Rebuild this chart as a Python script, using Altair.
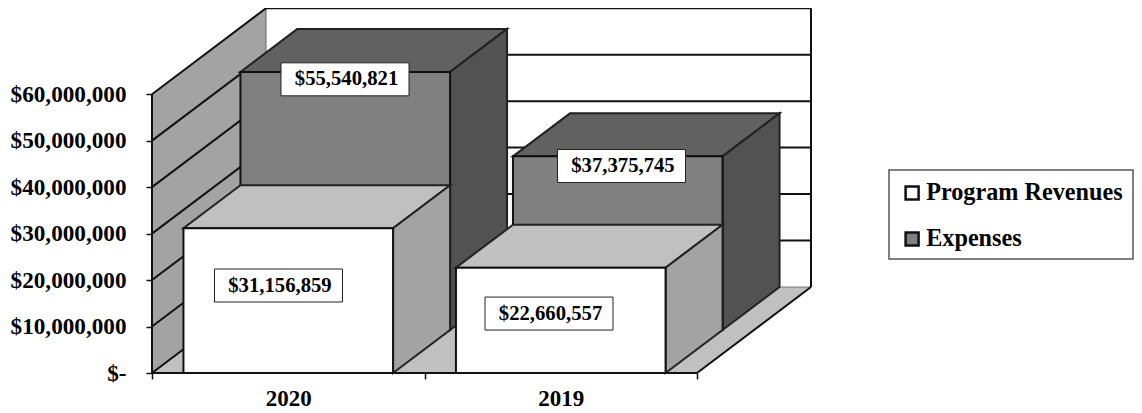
import altair as alt
import pandas as pd

# --- data ---
years = ["2020", "2019"]
series = ["Program Revenues", "Expenses"]
program_revenues = [31156859, 22660557]
expenses = [55540821, 37375745]
y_ticks = [0, 10000000, 20000000, 30000000, 40000000, 50000000, 60000000]
# label-box anchors, in (category units, dollars) of the front plane
label_cat = {"Program Revenues": [0.4642, 1.4569], "Expenses": [0.7083, 1.7229]}
label_val = {"Program Revenues": [18830000, 12790000], "Expenses": [63200000, 44550000]}

# --- oblique projection of (category, depth, value) ---
W, H = 659, 365
UNIT_PX = 272.5
K = (373 - 94.2) / 60000000
SHEAR_X = 114 / UNIT_PX
SHEAR_Y = 86 / K
X_DOMAIN = [0, W / UNIT_PX]
Y_DOMAIN = [0, H / K]
GAP = (1 - 1 / 1.3) / 2
FONT = "Liberation Serif"


def px(c, d):
    return c + d * SHEAR_X


def py(v, d):
    return v + d * SHEAR_Y


xs = alt.Scale(domain=X_DOMAIN, nice=False, zero=False)
ys = alt.Scale(domain=Y_DOMAIN, nice=False, zero=False)
x_axis = alt.Axis(
    values=[0, 0.5, 1, 1.5, 2], domain=False, grid=False, tickSize=6, tickWidth=1.5,
    tickColor="#111111",
    tickOpacity={"condition": {"test": "datum.value % 1 == 0", "value": 1}, "value": 0},
    labelExpr=f"datum.value == 0.5 ? '{years[0]}' : datum.value == 1.5 ? '{years[1]}' : ''",
    labelFont=FONT, labelFontSize=23, labelFontWeight="bold", labelColor="black",
    labelPadding=8, labelOverlap=False, labelFlush=False, labelBound=False)
y_axis = alt.Axis(
    values=y_ticks, domain=False, grid=False, tickSize=6, tickWidth=1.5,
    tickColor="#111111",
    labelExpr="datum.value == 0 ? '$-' : format(datum.value, '$,.0f')",
    labelFont=FONT, labelFontSize=23.2, labelFontWeight="bold", labelColor="black",
    labelPadding=20, labelOverlap=False, labelBound=False)
X = alt.X("x:Q", scale=xs, title=None, axis=x_axis)
Y = alt.Y("y:Q", scale=ys, title=None, axis=y_axis)
X2 = alt.X2("x2:Q")
Y2 = alt.Y2("y2:Q")


def vface(rows, fill, stroke="#222222", sw=2):
    """Parallelogram with vertical sides."""
    return alt.Chart(pd.DataFrame(rows)).mark_area(
        orient="vertical", fill=fill, stroke=stroke, strokeWidth=sw, opacity=1
    ).encode(x=X, y=Y, y2=Y2)


def hface(rows, fill, stroke="#222222", sw=2):
    """Parallelogram with horizontal sides."""
    return alt.Chart(pd.DataFrame(rows)).mark_area(
        orient="horizontal", fill=fill, stroke=stroke, strokeWidth=sw, opacity=1
    ).encode(y=Y, x=X, x2=X2)


def seg(c0, d0, v0, c1, d1, v1, key):
    return [
        {"x": px(c0, d0), "y": py(v0, d0), "k": key, "o": 0},
        {"x": px(c1, d1), "y": py(v1, d1), "k": key, "o": 1},
    ]


wall = pd.DataFrame([{"x": px(0, 1), "x2": px(2, 1), "y": py(0, 1), "y2": py(60000000, 1)}])
back = alt.Chart(wall).mark_rect(fill="white").encode(x=X, x2=X2, y=Y, y2=Y2)

left_wall = vface(
    [{"x": px(0, 0), "y": py(0, 0), "y2": py(60000000, 0)},
     {"x": px(0, 1), "y": py(0, 1), "y2": py(60000000, 1)}],
    "#a3a3a3", "#666666", 1,
)
floor = hface(
    [{"y": py(0, 0), "x": px(0, 0), "x2": px(2, 0)},
     {"y": py(0, 1), "x": px(0, 1), "x2": px(2, 1)}],
    "#c0c0c0", "#777777", 1,
)

grid_rows = []
for v in y_ticks:
    grid_rows += seg(0, 0, v, 0, 1, v, f"d{v}")
    if v > 0:
        grid_rows += seg(0, 1, v, 2, 1, v, f"b{v}")
grid_rows += seg(0, 0, 0, 0, 0, 60000000, "front-left")
grid_rows += seg(2, 1, 0, 2, 1, 60000000, "back-right")
grid_rows += seg(0, 0, 0, 2, 0, 0, "front-floor")
grid_rows += seg(2, 0, 0, 2, 1, 0, "right-floor")
grid = alt.Chart(pd.DataFrame(grid_rows)).mark_line(color="#111111", strokeWidth=2).encode(
    x=X, y=Y, detail="k:N", order="o:Q"
)

color = alt.Color(
    "series:N",
    scale=alt.Scale(domain=series, range=["#ffffff", "#808080"]),
    legend=alt.Legend(
        title=None, orient="none", legendX=748, legendY=173, padding=0,
        labelFont=FONT, labelFontSize=24.2, labelFontWeight="bold", labelColor="black",
        labelOffset=2, rowPadding=21, symbolType="square", symbolSize=169,
        symbolStrokeColor="#111111", symbolStrokeWidth=2.5, symbolOpacity=1,
        labelLimit=400,
    ),
)


def bar(i, name, value, d0, d1, top_fill, side_fill):
    c0, c1 = i + GAP, i + 1 - GAP
    top = hface(
        [{"y": py(value, d0), "x": px(c0, d0), "x2": px(c1, d0)},
         {"y": py(value, d1), "x": px(c0, d1), "x2": px(c1, d1)}],
        top_fill,
    )
    side = vface(
        [{"x": px(c1, d0), "y": py(0, d0), "y2": py(value, d0)},
         {"x": px(c1, d1), "y": py(0, d1), "y2": py(value, d1)}],
        side_fill,
    )
    front = alt.Chart(pd.DataFrame([{
        "x": px(c0, d0), "x2": px(c1, d0), "y": py(0, d0), "y2": py(value, d0), "series": name,
    }])).mark_rect(stroke="#111111", strokeWidth=2, opacity=1).encode(
        x=X, x2=X2, y=Y, y2=Y2, fill=color
    )
    return [top, side, front]


layers = [back, left_wall, floor, grid]
for i in range(len(years)):
    layers += bar(i, series[1], expenses[i], 0.5, 1, "#616161", "#525252")
for i in range(len(years)):
    layers += bar(i, series[0], program_revenues[i], 0, 0.5, "#c0c0c0", "#a3a3a3")

label_rows = []
for name, vals in zip(series, [program_revenues, expenses]):
    for i, val in enumerate(vals):
        label_rows.append({"x": label_cat[name][i], "y": label_val[name][i], "value": val})
labels = pd.DataFrame(label_rows)
boxes = alt.Chart(labels).mark_rect(
    width=128, height=33, fill="white", stroke="#222222", strokeWidth=1, opacity=1
).encode(x=X, y=Y)
texts = alt.Chart(labels).mark_text(
    font=FONT, fontSize=20.7, fontWeight="bold", color="black", dx=1.5, align="center", baseline="middle"
).encode(x=X, y=Y, text=alt.Text("value:Q", format="$,.0f"))

# frame around the legend, through the same scales
frame = pd.DataFrame([{
    "x": (889 - 152) / UNIT_PX, "x2": (1133 - 152) / UNIT_PX,
    "y": (373 - 170) / K, "y2": (373 - 259) / K,
}])
legend_frame = alt.Chart(frame).mark_rect(
    fill="white", stroke="#555555", strokeWidth=1.5, opacity=1, clip=False
).encode(x=X, x2=X2, y=Y, y2=Y2)

layers += [boxes, texts, legend_frame]

chart = alt.layer(*layers).properties(
    width=W, height=H,
    padding={"left": 144, "top": 0, "right": 323, "bottom": 37},
    autosize=alt.AutoSizeParams(type="none"),
    background="white",
).configure_view(stroke=None)

chart.save("out.html", embed_options={"renderer": "svg", "actions": False})
